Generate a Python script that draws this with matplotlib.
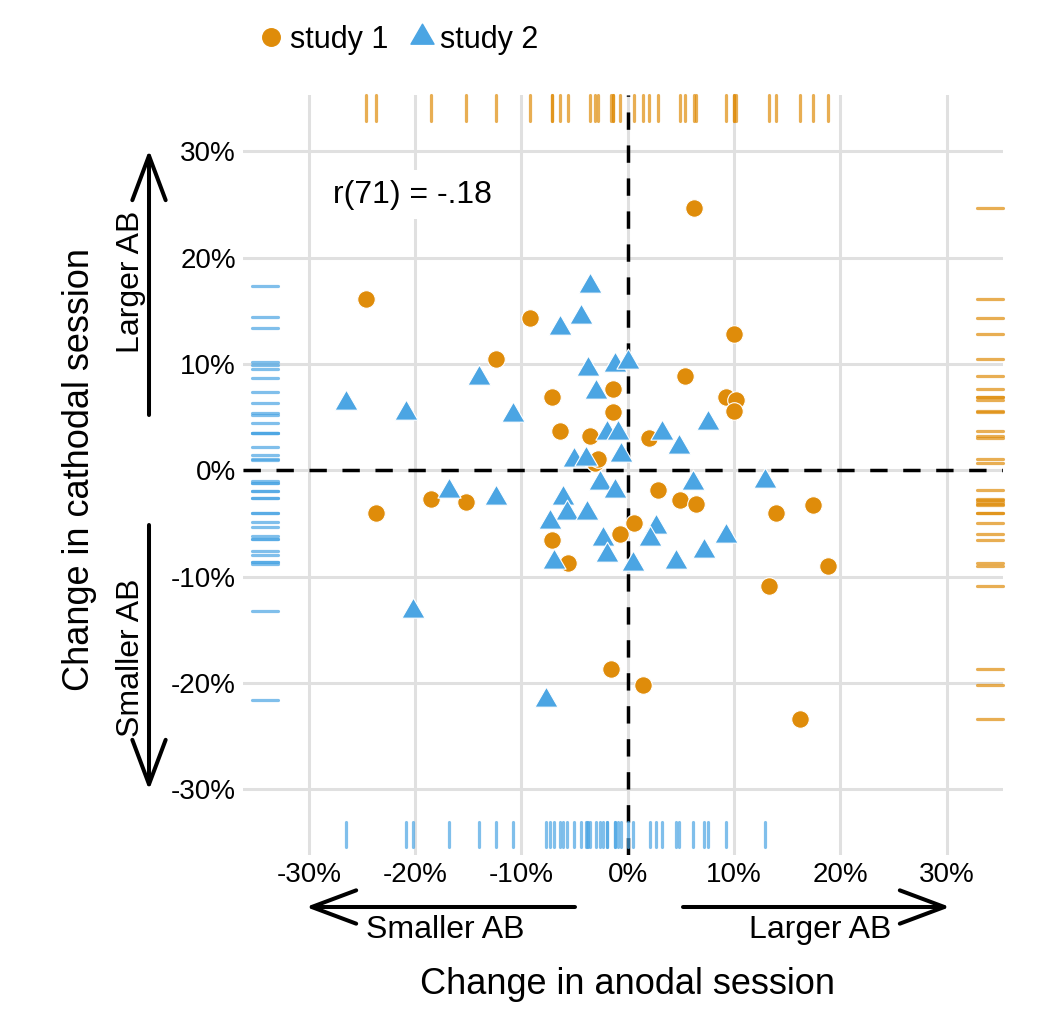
import numpy as np
import matplotlib
matplotlib.use("Agg")
import matplotlib.pyplot as plt
from matplotlib.path import Path
from matplotlib.lines import Line2D
from matplotlib.patches import FancyArrowPatch
from matplotlib.transforms import blended_transform_factory

plt.rcParams['font.family'] = ['Liberation Sans', 'DejaVu Sans']

# study 1 (circles): change in anodal (x) and cathodal (y) session, in %
s1_x = [-24.6, -9.2, 10.0, -12.4, 5.4, -7.1, -1.4, 9.2, 10.2, 10.0, -1.4, -6.4,
        -3.6, 2.0, -3.1, -2.8, 2.8, 4.9, 6.4, 13.9, 17.4, 18.8, 13.3, 1.4, 16.2,
        0.6, -0.7, -23.7, -18.5, -15.2, -1.6, -7.1, -5.6, 6.2]
s1_y = [16.1, 14.3, 12.8, 10.5, 8.9, 6.9, 7.6, 6.9, 6.6, 5.6, 5.5, 3.7,
        3.2, 3.0, 0.7, 1.1, -1.9, -2.8, -3.2, -4.0, -3.3, -9.0, -10.9, -20.2, -23.4,
        -5.0, -6.0, -4.0, -2.7, -3.0, -18.7, -6.6, -8.7, 24.7]

# study 2 (triangles)
s2_x = [-3.6, -4.4, -6.4, -14.0, -3.7, -1.2, 0.0, -3.0, -26.5, -20.9, -10.8,
        -2.0, -0.9, -5.1, -3.9, -0.6, 3.2, 4.8, 7.5, -2.6, -1.2, 6.1, 12.9,
        -6.1, -5.7, -3.8, -7.3, -6.9, -2.3, -2.0, 0.5, 2.7, 2.1, 4.5, 7.2, 9.2,
        -16.8, -12.4, -20.2, -7.7]
s2_y = [17.3, 14.4, 13.4, 8.7, 9.5, 9.9, 10.2, 7.4, 6.3, 5.4, 5.2,
        3.5, 3.5, 1.0, 1.1, 1.4, 3.5, 2.2, 4.4, -1.2, -2.0, -1.2, -1.0,
        -2.6, -4.0, -4.0, -4.9, -8.6, -6.5, -8.0, -8.8, -5.3, -6.5, -8.6, -7.6, -6.2,
        -2.0, -2.6, -13.2, -21.6]

ticks = [-30, -20, -10, 0, 10, 20, 30]
tick_labels = ["-30%", "-20%", "-10%", "0%", "10%", "20%", "30%"]
r_label = "r(71) = -.18"

orange = '#DF8C0A'
blue = '#4BA5E3'

W, H = 1062, 1026
fig = plt.figure(figsize=(W / 100, H / 100), dpi=100)
ax = fig.add_axes([243 / W, 1 - 855 / H, 760 / W, 760 / H])
ax.set_xlim(-36.2, 35.3)
ax.set_ylim(-36.2, 35.3)

for s in ax.spines.values():
    s.set_visible(False)
ax.set_xticks(ticks, tick_labels)
ax.set_yticks(ticks, tick_labels)
ax.tick_params(length=0, labelsize=20, pad=5)
ax.grid(True, color='#E0E0E0', lw=2.2)
ax.set_axisbelow(True)

ax.axhline(0, color='black', lw=2.5, dashes=(5, 4.5), zorder=2)
ax.axvline(0, color='black', lw=2.5, dashes=(5, 4.5), zorder=2)

# rugs
tx = blended_transform_factory(ax.transData, ax.transAxes)
ty = blended_transform_factory(ax.transAxes, ax.transData)
ax.vlines(s1_x, 0.966, 1.0, transform=tx, color=orange, alpha=0.7, lw=2.3,
          capstyle='round', clip_on=False, zorder=3)
ax.hlines(s1_y, 0.966, 1.0, transform=ty, color=orange, alpha=0.7, lw=2.3,
          capstyle='round', clip_on=False, zorder=3)
ax.vlines(s2_x, 0.011, 0.044, transform=tx, color=blue, alpha=0.7, lw=2.3,
          capstyle='round', clip_on=False, zorder=3)
ax.hlines(s2_y, 0.012, 0.046, transform=ty, color=blue, alpha=0.7, lw=2.3,
          capstyle='round', clip_on=False, zorder=3)

tri = Path([(0, 1), (-0.866, -0.5), (0.866, -0.5), (0, 1)],
           [Path.MOVETO, Path.LINETO, Path.LINETO, Path.CLOSEPOLY])

ax.scatter(s1_x, s1_y, s=160, marker='o', color=orange, edgecolor='white',
           linewidth=0.8, zorder=4)
ax.scatter(s2_x, s2_y, s=370, marker=tri, color=blue, edgecolor='white',
           linewidth=0.8, zorder=5)

ax.text(-20.3, 25.9, r_label, ha='center', va='center', fontsize=23,
        bbox=dict(boxstyle='square,pad=0.3', fc='white', ec='none'), zorder=6)

# legend
handles = [Line2D([], [], ls='none', marker='o', ms=12.6, color=orange),
           Line2D([], [], ls='none', marker=tri, ms=19.2, color=blue)]
fig.legend(handles, ["study 1", "study 2"], loc='center left',
           bbox_to_anchor=(256 / W, 1 - 40 / H), ncol=2, frameon=False,
           fontsize=22, handletextpad=0.1, columnspacing=0.6, handlelength=1.0,
           borderpad=0, borderaxespad=0)


def fp(px, py):
    return (px / W, 1 - py / H)


def arrow(p0, p1):
    a = FancyArrowPatch(fp(*p0), fp(*p1), transform=fig.transFigure,
                        arrowstyle='->,head_length=32,head_width=12',
                        mutation_scale=1, lw=2.9, color='black',
                        shrinkA=0, shrinkB=0)
    fig.patches.append(a)


arrow((575, 907), (306, 907))
arrow((683, 907), (950, 907))
arrow((149, 415), (149, 150))
arrow((149, 525), (149, 790))

fig.text(*fp(445, 930), "Smaller AB", ha='center', va='center', fontsize=23)
fig.text(*fp(820, 930), "Larger AB", ha='center', va='center', fontsize=23)
fig.text(*fp(131, 282), "Larger AB", ha='center', va='center', fontsize=23,
         rotation=90)
fig.text(*fp(131, 658), "Smaller AB", ha='center', va='center', fontsize=23,
         rotation=90)

fig.text(*fp(627, 985), "Change in anodal session", ha='center', va='center',
         fontsize=26)
fig.text(*fp(80, 470), "Change in cathodal session", ha='center',
         va='center', fontsize=26, rotation=90)

fig.savefig("out.png", dpi=100)
